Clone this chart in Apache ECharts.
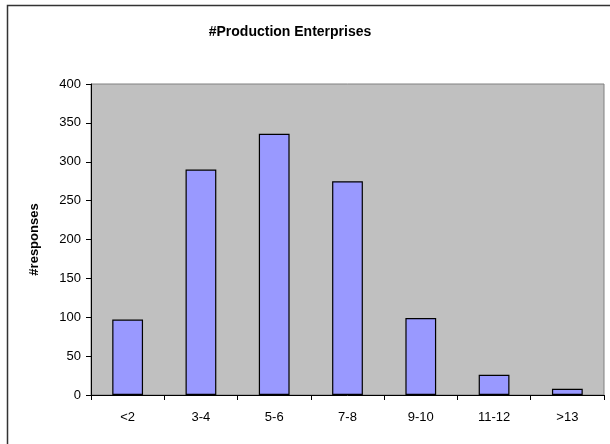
<!DOCTYPE html>
<html>
<head>
<meta charset="utf-8">
<script src="https://cdn.jsdelivr.net/npm/echarts@6/dist/echarts.min.js"></script>
<style>
  html, body { margin: 0; padding: 0; background: #fff; }
  #chart { width: 610px; height: 444px; }
</style>
</head>
<body>
<div id="chart"></div>
<script>
// categories and values
var categories = ["<2", "3-4", "5-6", "7-8", "9-10", "11-12", ">13"];
var responses = [97, 290, 336, 275, 99, 26, 8];

var myChart = echarts.init(document.getElementById("chart"));
myChart.setOption({
  backgroundColor: "#fff",
  animation: false,
  textStyle: { fontFamily: "Liberation Sans, Arial, sans-serif" },
  title: {
    text: "#Production Enterprises",
    left: 285,
    top: 20,
    textAlign: "center",
    textStyle: { fontSize: 14, fontWeight: "bold", color: "#000" }
  },
  // outer chart frame, excel style
  graphic: [
    {
      type: "rect",
      shape: { x: 7.5, y: 5.5, width: 610, height: 450 },
      style: { fill: null, stroke: "#333", lineWidth: 1.5 },
      silent: true
    }
  ],
  grid: {
    left: 91,
    top: 84,
    right: 6,
    bottom: 49,
    show: true,
    backgroundColor: "#c0c0c0",
    borderColor: "#808080",
    borderWidth: 1
  },
  xAxis: {
    type: "category",
    data: categories,
    axisLine: { lineStyle: { color: "#000", width: 1 } },
    axisTick: { show: true, alignWithLabel: false, length: 5, lineStyle: { color: "#000" } },
    axisLabel: { color: "#000", fontSize: 13, margin: 16 },
    splitLine: { show: false }
  },
  yAxis: {
    type: "value",
    min: 0,
    max: 400,
    interval: 50,
    name: "#responses",
    nameLocation: "middle",
    nameGap: 50,
    nameTextStyle: { fontSize: 13, fontWeight: "bold", color: "#000" },
    axisLine: { show: true, lineStyle: { color: "#000", width: 1 } },
    axisTick: { show: true, length: 5, lineStyle: { color: "#000" } },
    axisLabel: { color: "#000", fontSize: 13, margin: 10 },
    splitLine: { show: false }
  },
  series: [
    {
      type: "bar",
      data: responses,
      barWidth: "42%",
      itemStyle: { color: "#9999ff", borderColor: "#000", borderWidth: 1.2 }
    }
  ]
});
</script>
</body>
</html>
